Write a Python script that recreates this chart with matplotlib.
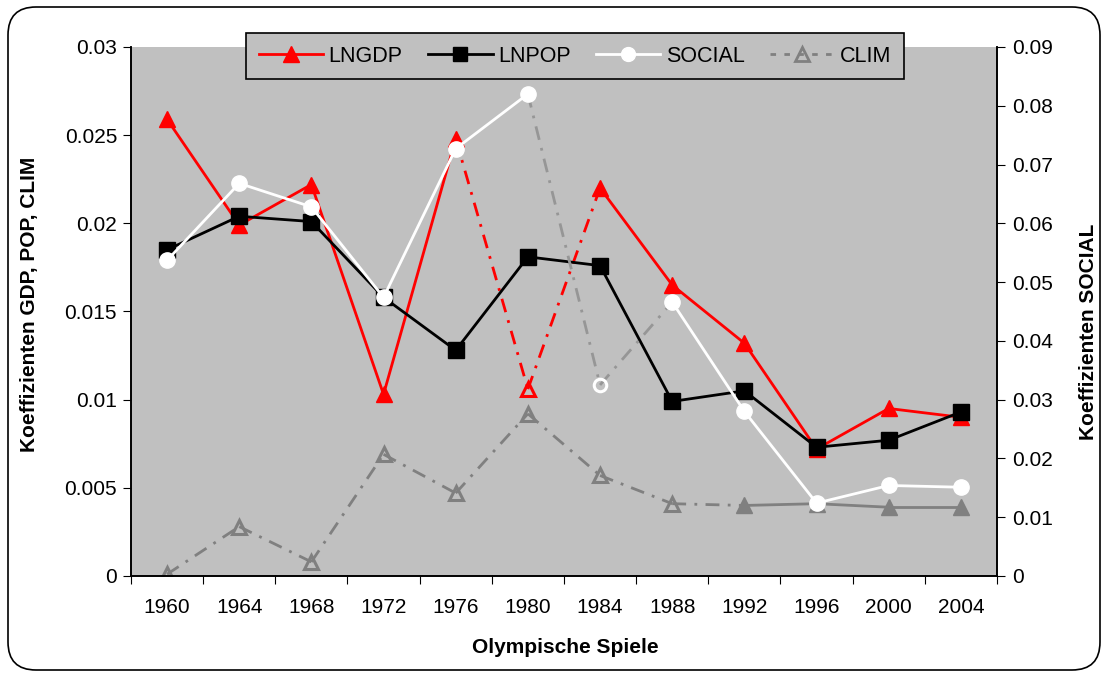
import matplotlib
matplotlib.use('Agg')
import matplotlib.pyplot as plt
from matplotlib.lines import Line2D
from matplotlib.patches import FancyBboxPatch

plt.rcParams['font.family'] = ['Liberation Sans', 'DejaVu Sans']

years = ['1960', '1964', '1968', '1972', '1976', '1980', '1984', '1988', '1992', '1996', '2000', '2004']
lngdp = [0.0259, 0.0199, 0.0222, 0.0103, 0.0248, 0.0106, 0.0220, 0.0165, 0.0132, 0.0072, 0.0095, 0.0090]
lnpop = [0.0185, 0.0204, 0.0201, 0.0158, 0.0128, 0.0181, 0.0176, 0.0099, 0.0105, 0.0073, 0.0077, 0.0093]
social = [0.0537, 0.0668, 0.0628, 0.0474, 0.0727, 0.0820, 0.0325, 0.0466, 0.0280, 0.0124, 0.0154, 0.0151]
clim = [0.0001, 0.0028, 0.0008, 0.0069, 0.0047, 0.0092, 0.0057, 0.0041, 0.0040, 0.0041, 0.0039, 0.0039]

# hollow marker = not significant
lngdp_sig = [1, 1, 1, 1, 1, 0, 1, 1, 1, 1, 1, 1]
lnpop_sig = [1] * 12
social_sig = [1, 1, 1, 1, 1, 1, 0, 1, 1, 1, 1, 1]
clim_sig = [0, 0, 0, 0, 0, 0, 0, 0, 1, 1, 1, 1]

BG = '#c0c0c0'
DASHDOT = (0, (5, 3, 1, 3))

fig = plt.figure(figsize=(11.08, 6.77), dpi=100)
ax = fig.add_axes([0.1182, 0.1492, 0.7816, 0.7814])
ax.set_facecolor(BG)
ax2 = ax.twinx()

x = list(range(len(years)))


def draw(a, vals, sig, color, dotcolor, marker, ms, z):
    for i in range(len(vals) - 1):
        if sig[i] and sig[i + 1]:
            a.plot([x[i], x[i + 1]], [vals[i], vals[i + 1]], color=color, lw=2.0, zorder=z)
        else:
            a.plot([x[i], x[i + 1]], [vals[i], vals[i + 1]], color=dotcolor, lw=2.0,
                   ls=DASHDOT, zorder=z)
    for i, v in enumerate(vals):
        if sig[i]:
            a.plot(x[i], v, marker=marker, ms=ms, color=color, mec=color, zorder=z + 0.5)
        else:
            a.plot(x[i], v, marker=marker, ms=ms - 2, mfc='none', mec=color, mew=2.2,
                   zorder=z + 0.5)


draw(ax, clim, clim_sig, '#808080', '#808080', '^', 12, 2)
draw(ax, lngdp, lngdp_sig, '#ff0000', '#ff0000', '^', 12, 3)
draw(ax, lnpop, lnpop_sig, '#000000', '#000000', 's', 11, 4)
draw(ax2, social, social_sig, '#ffffff', '#969696', 'o', 11, 5)

ax.set_xlim(-0.5, 11.5)
ax.set_ylim(0, 0.03)
ax2.set_ylim(0, 0.09)

ax.set_xticks([i - 0.5 for i in range(13)])
ax.set_xticklabels([])
ax.tick_params(axis='x', which='major', direction='out', length=6, color='black')
ax.set_xticks(x, minor=True)
ax.set_xticklabels(years, minor=True, fontsize=15)
ax.tick_params(axis='x', which='minor', length=0, pad=16)

ax.set_yticks([0, 0.005, 0.01, 0.015, 0.02, 0.025, 0.03])
ax.set_yticklabels(['0', '0.005', '0.01', '0.015', '0.02', '0.025', '0.03'], fontsize=15)
ax.tick_params(axis='y', direction='out', length=6, pad=4)
ax2.set_yticks([0, 0.01, 0.02, 0.03, 0.04, 0.05, 0.06, 0.07, 0.08, 0.09])
ax2.set_yticklabels(['0', '0.01', '0.02', '0.03', '0.04', '0.05', '0.06', '0.07', '0.08', '0.09'],
                    fontsize=15)
ax2.tick_params(axis='y', direction='out', length=6, pad=5)

for a in (ax, ax2):
    a.spines['top'].set_visible(False)
    for s in ('left', 'right', 'bottom'):
        a.spines[s].set_color('black')
        a.spines[s].set_linewidth(1.2)

fig.text(0.027, 0.55, 'Koeffizienten GDP, POP, CLIM', rotation=90, ha='center', va='center',
         fontsize=15, fontweight='bold')
fig.text(0.982, 0.51, 'Koeffizienten SOCIAL', rotation=90, ha='center', va='center',
         fontsize=15, fontweight='bold')
fig.text(0.51, 0.043, 'Olympische Spiele', ha='center', va='center', fontsize=15,
         fontweight='bold')

handles = [
    Line2D([], [], color='#ff0000', lw=2, marker='^', ms=12),
    Line2D([], [], color='#000000', lw=2, marker='s', ms=10),
    Line2D([], [], color='#ffffff', lw=2, marker='o', ms=10),
    Line2D([], [], color='#808080', lw=2, ls=(0, (2, 3)), marker='^', ms=10, mfc='none', mew=2),
]
leg = ax2.legend(handles, ['LNGDP', 'LNPOP', 'SOCIAL', 'CLIM'], ncol=4, loc='center',
                 bbox_to_anchor=(235 / 1108, 1 - 79 / 677, 680 / 1108, 46 / 677),
                 bbox_transform=fig.transFigure, mode='expand',
                 fontsize=15.5, frameon=True, fancybox=False, facecolor=BG, edgecolor='black',
                 framealpha=1, handlelength=3.0, handletextpad=0.25, columnspacing=0.5,
                 borderpad=0.6)
leg.get_frame().set_linewidth(1.2)
leg.set_zorder(20)

border = FancyBboxPatch((8, 7), 1092, 663, boxstyle='round,pad=0,rounding_size=28',
                        transform=None, fill=False, edgecolor='black', lw=1.2)
fig.add_artist(border)

plt.savefig('out.png', dpi=100)
plt.close()
